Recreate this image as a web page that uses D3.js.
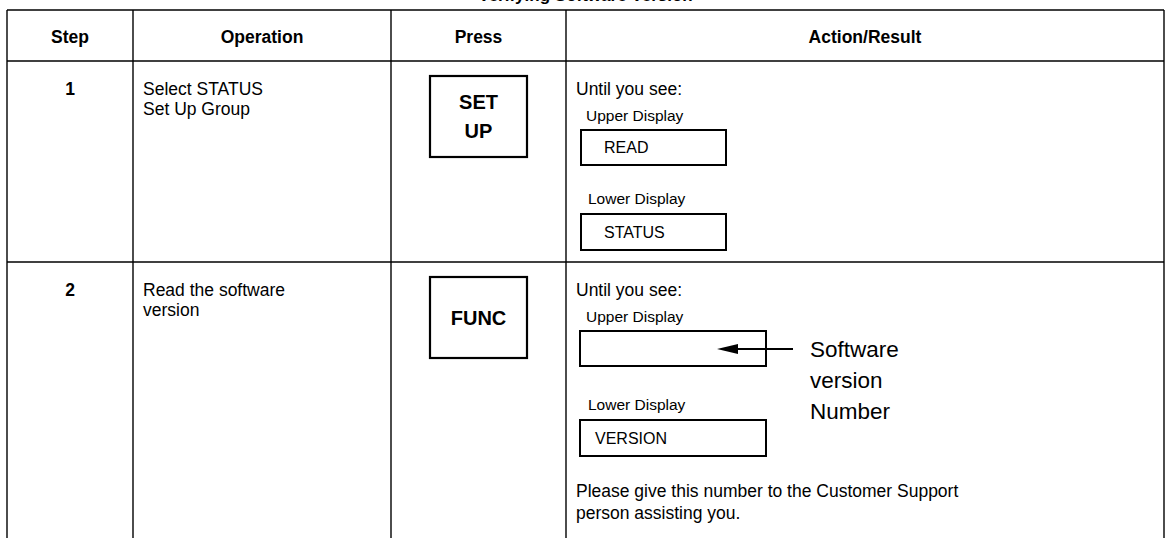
<!DOCTYPE html>
<html>
<head>
<meta charset="utf-8">
<script src="https://cdnjs.cloudflare.com/ajax/libs/d3/7.8.5/d3.min.js"></script>
<style>
  html, body { margin: 0; padding: 0; background: #fff; }
  svg { display: block; font-family: Arial, "Liberation Sans", Helvetica, sans-serif; }
</style>
</head>
<body>
<svg id="chart" width="1171" height="538"></svg>
<script>
// ---- data ----
const title = "Verifying Software Version";
const headers = ["Step", "Operation", "Press", "Action/Result"];
const steps = ["1", "2"];
const operations = [["Select STATUS", "Set Up Group"], ["Read the software", "version"]];
const keys = [["SET", "UP"], ["FUNC"]];
const intro = ["Until you see:", "Until you see:"];
const upperLabel = ["Upper Display", "Upper Display"];
const upperValue = ["READ", ""];
const lowerLabel = ["Lower Display", "Lower Display"];
const lowerValue = ["STATUS", "VERSION"];
const calloutLines = ["Software", "version", "Number"];
const footnote = ["Please give this number to the Customer Support", "person assisting you."];

// ---- layout ----
const svg = d3.select("#chart");
const W = 1171, H = 538;
const colEdges = [7, 133, 391, 566, 1164];
const x = d3.scaleOrdinal().domain(headers).range(colEdges.slice(0, 4));
const xEnd = d3.scaleOrdinal().domain(headers).range(colEdges.slice(1));
const rowTop = d3.scaleOrdinal().domain(["header", "1", "2"]).range([10, 61, 262]);
const boxW = [[581, 726], [580, 766]];
const FS = 17.5;

// title (cut off at top)
svg.append("text").attr("x", (colEdges[0] + colEdges[4]) / 2).attr("y", 1)
  .attr("text-anchor", "middle").attr("font-weight", "bold").attr("font-size", 17)
  .text(title);

const g = svg.append("g").attr("stroke", "#000").attr("fill", "none");
["header", "1", "2"].forEach(r => {
  g.append("line").attr("x1", colEdges[0]).attr("x2", colEdges[4])
    .attr("y1", rowTop(r)).attr("y2", rowTop(r)).attr("stroke-width", 1.4);
});
colEdges.forEach(cx => {
  g.append("line").attr("x1", cx).attr("x2", cx).attr("y1", 10).attr("y2", H + 5).attr("stroke-width", 1.4);
});

// headers
svg.selectAll("text.hdr").data(headers).join("text").attr("class", "hdr")
  .attr("x", d => (x(d) + xEnd(d)) / 2).attr("y", 43)
  .attr("text-anchor", "middle").attr("font-weight", "bold").attr("font-size", FS)
  .text(d => d);

steps.forEach((s, i) => {
  const top = rowTop(s);
  svg.append("text").attr("x", (x("Step") + xEnd("Step")) / 2).attr("y", top + 34)
    .attr("text-anchor", "middle").attr("font-weight", "bold").attr("font-size", FS).text(s);
  operations[i].forEach((t, j) => {
    svg.append("text").attr("x", x("Operation") + 10).attr("y", top + 34 + j * 20)
      .attr("font-size", FS).text(t);
  });
  const kx0 = 430, kx1 = 527, ky0 = top + 15, ky1 = top + 96;
  svg.append("rect").attr("x", kx0).attr("y", ky0).attr("width", kx1 - kx0).attr("height", ky1 - ky0)
    .attr("fill", "none").attr("stroke", "#000").attr("stroke-width", 2.2);
  const kk = keys[i];
  const lh = 29;
  const cy = (ky0 + ky1) / 2;
  kk.forEach((t, j) => {
    svg.append("text").attr("x", (kx0 + kx1) / 2)
      .attr("y", cy + 7 + (j - (kk.length - 1) / 2) * lh)
      .attr("text-anchor", "middle").attr("font-weight", "bold").attr("font-size", 20).text(t);
  });
  const ax = x("Action/Result") + 10;
  svg.append("text").attr("x", ax).attr("y", top + 34).attr("font-size", FS).text(intro[i]);
  svg.append("text").attr("x", ax + 10).attr("y", top + 60).attr("font-size", 15.5).text(upperLabel[i]);
  const [bx0, bx1] = boxW[i];
  svg.append("rect").attr("x", bx0).attr("y", top + 69).attr("width", bx1 - bx0).attr("height", 35)
    .attr("fill", "none").attr("stroke", "#000").attr("stroke-width", 2);
  svg.append("text").attr("x", bx0 + 23).attr("y", top + 92).attr("font-size", 16).text(upperValue[i]);
  const ly = i === 0 ? top + 143 : top + 148;
  svg.append("text").attr("x", ax + 12).attr("y", ly).attr("font-size", 15.5).text(lowerLabel[i]);
  svg.append("rect").attr("x", bx0).attr("y", ly + 10).attr("width", bx1 - bx0).attr("height", 36)
    .attr("fill", "none").attr("stroke", "#000").attr("stroke-width", 2);
  svg.append("text").attr("x", bx0 + (i === 0 ? 23 : 15)).attr("y", ly + 34).attr("font-size", 16).text(lowerValue[i]);
});

// callout arrow in step 2
const t2 = rowTop("2");
const ay = t2 + 87;
svg.append("line").attr("x1", 793).attr("x2", 735).attr("y1", ay).attr("y2", ay)
  .attr("stroke", "#000").attr("stroke-width", 2);
svg.append("path").attr("d", d3.line()([[717, ay], [738, ay - 5], [738, ay + 5]]) + "Z").attr("fill", "#000");
calloutLines.forEach((t, j) => {
  svg.append("text").attr("x", 810).attr("y", t2 + 95 + j * 31).attr("font-size", 22.5).text(t);
});
footnote.forEach((t, j) => {
  svg.append("text").attr("x", x("Action/Result") + 10).attr("y", t2 + 235 + j * 22)
    .attr("font-size", FS).text(t);
});
</script>
</body>
</html>
